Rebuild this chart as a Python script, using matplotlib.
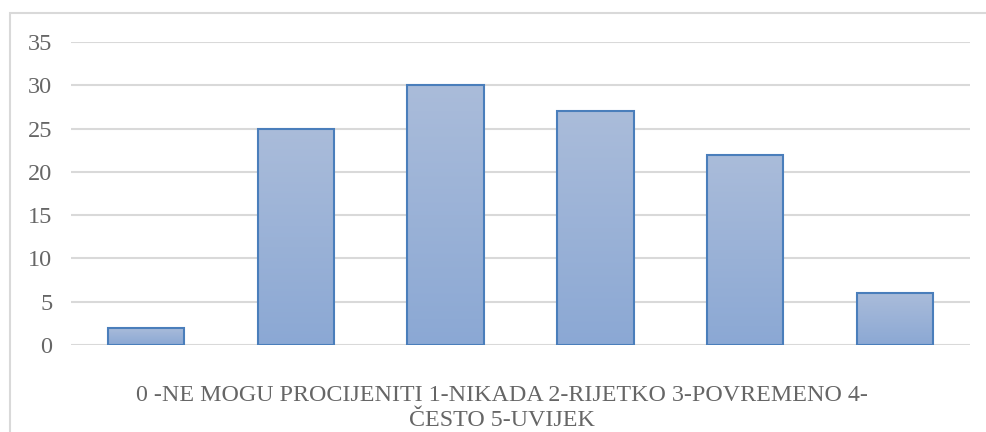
import matplotlib.pyplot as plt
import numpy as np
from matplotlib.patches import Rectangle
from matplotlib.colors import LinearSegmentedColormap

categories = ["0", "1", "2", "3", "4", "5"]
values = [2, 25, 30, 27, 22, 6]
yticks = [0, 5, 10, 15, 20, 25, 30, 35]
xlabel = "0 -NE MOGU PROCIJENITI 1-NIKADA 2-RIJETKO 3-POVREMENO 4-\nČESTO 5-UVIJEK"

plt.rcParams['font.family'] = ['Liberation Serif', 'DejaVu Serif']

W, H = 986, 432
fig = plt.figure(figsize=(W / 100, H / 100), dpi=100)
ax = fig.add_axes([71 / W, 1 - 345 / H, (970 - 71) / W, (345 - 42) / H])

x = np.arange(len(categories))
bars = ax.bar(x, values, width=0.51, color='none', edgecolor='#4a7ebb', linewidth=1.5, zorder=3)

# vertical gradient in each bar, lighter at top
grad = np.linspace(0, 1, 256).reshape(-1, 1)
cmap = LinearSegmentedColormap.from_list('g', ['#8ba8d4', '#aabcda'])
for b in bars:
    bx, by = b.get_x(), b.get_y()
    im = ax.imshow(grad, cmap=cmap, aspect='auto', origin='lower',
                   extent=[bx, bx + b.get_width(), by, by + b.get_height()], zorder=2)
    im.set_clip_path(b)

ax.set_xlim(-0.5, len(categories) - 0.5)
ax.set_ylim(0, 35)
ax.set_yticks(yticks)
ax.set_xticks([])
ax.yaxis.grid(True, color='#d9d9d9', linewidth=1.5, zorder=0)
ax.set_axisbelow(True)
for s in ax.spines.values():
    s.set_visible(False)
ax.tick_params(axis='y', length=0, pad=13.5, labelsize=17.5, labelcolor='#666666')

# axis title, wrapped over two lines
for i, line in enumerate(xlabel.split('\n')):
    fig.text(502 / W, 1 - (401 + 25 * i) / H, line, ha='center', va='baseline',
             fontsize=17.3, color='#666666')

# chart border (left and top visible)
fig.patches.append(Rectangle((9.5 / W, -0.1), 1.0, 1 - 13.5 / H + 0.1,
                             transform=fig.transFigure, fill=False,
                             edgecolor='#d9d9d9', linewidth=1.5))

fig.savefig('out.png', dpi=100)
